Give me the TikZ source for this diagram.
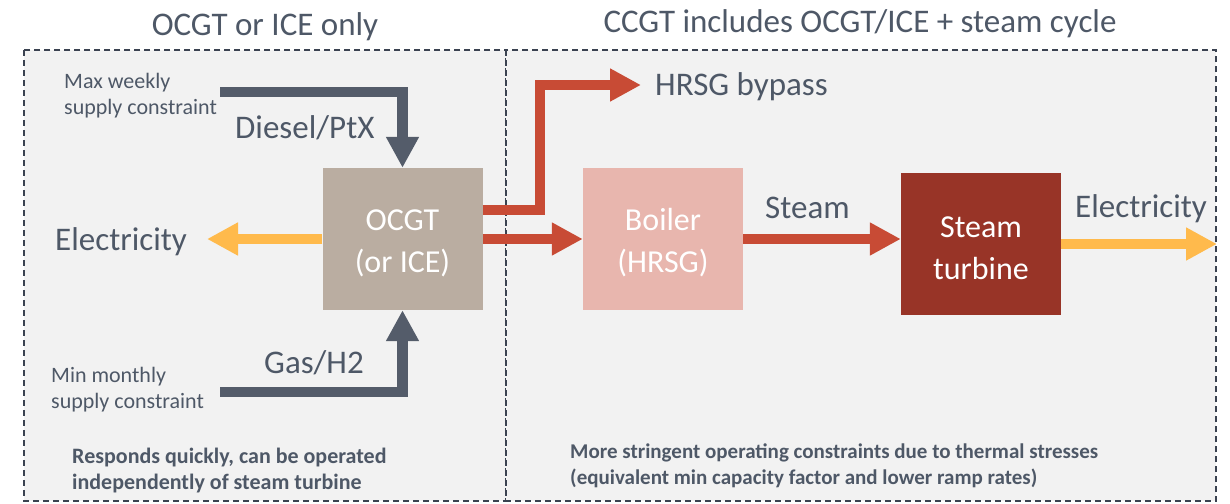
\documentclass[tikz,border=0pt]{standalone}
\usepackage{fontspec}
\setmainfont{Carlito}
\usetikzlibrary{arrows.meta}

\definecolor{txt}{HTML}{4E5867}
\definecolor{fuel}{HTML}{545C6A}
\definecolor{dashcol}{HTML}{3A4250}
\definecolor{panelbg}{HTML}{F2F2F2}
\definecolor{ocgtfill}{HTML}{BAADA1}
\definecolor{boilerfill}{HTML}{E8B6AE}
\definecolor{turbinefill}{HTML}{983427}
\definecolor{exhaustcol}{HTML}{C84B35}
\definecolor{eleccol}{HTML}{FFBA4C}

% tall first line keeps the two-line unit labels a little below centre
\newcommand{\unittop}{\rule{0pt}{29pt}}

\tikzset{
  panel/.style={fill=panelbg, draw=dashcol, line width=1.3pt, dash pattern=on 6pt off 4pt},
  unit/.style={draw=none, fill=#1, minimum width=160pt, minimum height=142pt,
    inner sep=0pt, align=center, text=white, font=\fontsize{32}{42}\selectfont},
  flow/.style={line width=10.5pt, line join=miter, line cap=butt,
    -{Triangle[width=31pt,length=31pt]}},
  fuelflow/.style={flow, draw=fuel},
  exhaust/.style={flow, draw=exhaustcol},
  elecflow/.style={flow, draw=eleccol},
  title/.style={text=txt, font=\fontsize{33}{38}\selectfont, inner sep=0pt},
  biglbl/.style={text=txt, font=\fontsize{33}{38}\selectfont, inner sep=0pt, anchor=base west},
  smalllbl/.style={text=txt, font=\fontsize{22}{26}\selectfont, inner sep=0pt, anchor=base west},
  note/.style={text=txt, font=\fontsize{22}{26}\selectfont\bfseries, inner sep=0pt, anchor=base west},
  narrownote/.style={text=txt, font=\fontsize{21}{26}\selectfont\bfseries, inner sep=0pt, anchor=base west},
}

\begin{document}
\begin{tikzpicture}[x=1pt, y=-1pt]
\useasboundingbox (0,0) rectangle (1230,503);
\fill[white] (0,0) rectangle (1230,503);

% the two dashed panels
\draw[panel] (24,50) rectangle (506,501);
\draw[panel] (506,50) rectangle (1216,501);

% panel headings
\node[title, anchor=base] (lefttitle) at (265,36) {OCGT or ICE only};
\node[title, anchor=base] (righttitle) at (860,33) {CCGT includes OCGT/ICE + steam cycle};

% units
\node[unit=ocgtfill] (ocgt) at (402.5,239) {\unittop OCGT\\(or ICE)};
\node[unit=boilerfill] (boiler) at (663,239) {\unittop Boiler\\(HRSG)};
\node[unit=turbinefill] (turbine) at (981,244) {\unittop Steam\\turbine};

% free ends of the flows
\coordinate (dieselsrc) at (220,92);
\coordinate (gassrc) at (220,392);
\coordinate (elecleft) at (207,239);
\coordinate (bypassbend) at (540,85);
\coordinate (bypassend) at (641,85);
\coordinate (elecright) at (1217,244);

% fuel supply
\draw[fuelflow] (dieselsrc) -| (ocgt.north);
\draw[fuelflow] (gassrc) -| (ocgt.south);

% electricity from the gas turbine
\draw[elecflow] (ocgt.west) -- (elecleft);

% exhaust gas: bypass and into the boiler
\draw[exhaust] ([yshift=29pt]ocgt.east) -| (bypassbend) -- (bypassend);
\draw[exhaust] (ocgt.east) -- (boiler.west);

% steam to the turbine, electricity out
\draw[exhaust] (boiler.east) -- (boiler.east -| turbine.west);
\draw[elecflow] (turbine.east) -- (elecright);

% flow labels
\node[smalllbl] (maxw1) at (64,88) {Max weekly};
\node[smalllbl] (maxw2) at (64,114) {supply constraint};
\node[smalllbl] (minm1) at (51,382) {Min monthly};
\node[smalllbl] (minm2) at (51,408) {supply constraint};
\node[biglbl] (diesel) at (235,138) {Diesel/PtX};
\node[biglbl] (gas) at (264,373) {Gas/H2};
\node[biglbl] (elecllbl) at (55,250) {Electricity};
\node[biglbl] (bypasslbl) at (655,95) {HRSG bypass};
\node[biglbl] (steamlbl) at (765,218) {Steam};
\node[biglbl] (elecrlbl) at (1075,217) {Electricity};

% panel notes
\node[note] (leftnote1) at (72,463) {Responds quickly, can be operated};
\node[note] (leftnote2) at (72,489) {independently of steam turbine};
\node[narrownote] (rightnote1) at (570,458) {More stringent operating constraints due to thermal stresses};
\node[narrownote] (rightnote2) at (570,484) {(equivalent min capacity factor and lower ramp rates)};
\end{tikzpicture}
\end{document}
